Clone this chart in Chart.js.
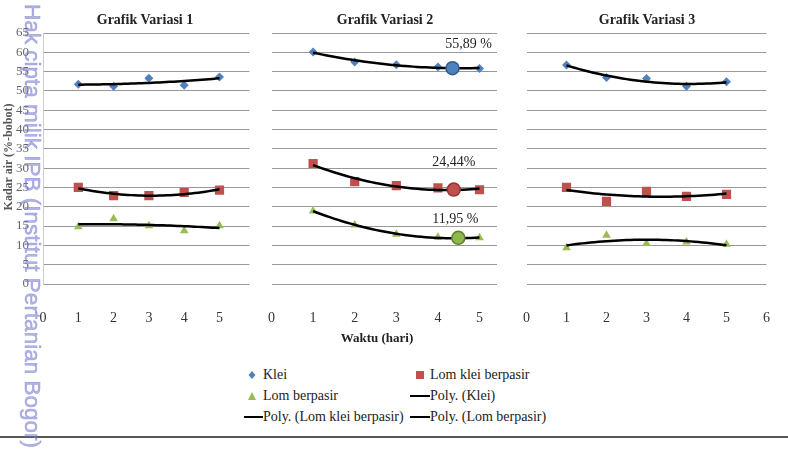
<!DOCTYPE html>
<html><head><meta charset="utf-8">
<script src="https://cdn.jsdelivr.net/npm/chart.js@4.4.1/dist/chart.umd.min.js"></script>
<style>
body{margin:0;width:788px;height:452px;background:#fff;position:relative;overflow:hidden;font-family:"Liberation Serif",serif;color:#222;}
canvas{position:absolute;}
.t{position:absolute;white-space:nowrap;}
.title{font-weight:bold;font-size:14px;transform:translate(-50%,-50%);}
.leg{font-size:14px;transform:translateY(-50%);font-family:"Liberation Serif",serif;}
.mk{position:absolute;transform:translate(-50%,-50%);}
</style></head><body>
<canvas id="c1" style="left:0;top:0" width="256" height="330"></canvas>
<canvas id="c2" style="left:250px;top:0" width="255" height="330"></canvas>
<canvas id="c3" style="left:505px;top:0" width="283" height="330"></canvas>

<div class="t title" style="left:145px;top:20px">Grafik Variasi 1</div>
<div class="t title" style="left:385px;top:20px">Grafik Variasi 2</div>
<div class="t title" style="left:647px;top:20px">Grafik Variasi 3</div>
<div class="t title" style="left:377px;top:338px;font-size:13px">Waktu (hari)</div>
<div class="t" style="left:8px;top:157px;font-weight:bold;font-size:12px;color:#555;transform:translate(-50%,-50%) rotate(-90deg)">Kadar air (%-bobot)</div>

<svg class="mk" style="left:252px;top:375px" width="10" height="10"><polygon points="5,1 8.5,5 5,9 1.5,5" fill="#4F81BD"/></svg>
<div class="t leg" style="left:263px;top:375px">Klei</div>
<svg class="mk" style="left:420px;top:375px" width="10" height="10"><rect x="1" y="1" width="8" height="8" fill="#C0504D"/></svg>
<div class="t leg" style="left:430px;top:375px">Lom klei berpasir</div>
<svg class="mk" style="left:252px;top:396px" width="10" height="10"><polygon points="5,1 9,9 1,9" fill="#9BBB59"/></svg>
<div class="t leg" style="left:263px;top:396px">Lom berpasir</div>
<div style="position:absolute;left:410px;top:395px;width:20px;height:2px;background:#000"></div>
<div class="t leg" style="left:430px;top:396px">Poly. (Klei)</div>
<div style="position:absolute;left:244px;top:416px;width:19px;height:2px;background:#000"></div>
<div class="t leg" style="left:263px;top:417px">Poly. (Lom klei berpasir)</div>
<div style="position:absolute;left:410px;top:416px;width:20px;height:2px;background:#000"></div>
<div class="t leg" style="left:430px;top:417px">Poly. (Lom berpasir)</div>

<div style="position:absolute;left:0;top:436px;width:788px;height:2px;background:#555"></div>
<div class="t" style="left:32px;top:226px;font-family:'Liberation Sans',sans-serif;font-size:22.5px;-webkit-text-stroke:0.6px rgba(115,120,205,0.55);color:rgba(115,120,205,0.55);transform:translate(-50%,-50%) rotate(90deg)">Hak cipta milik IPB (Institut Pertanian Bogor)</div>

<script>
// ---- data ----
const days = [1, 2, 3, 4, 5];
const xTicks = [0, 1, 2, 3, 4, 5];
const xTicks3 = [0, 1, 2, 3, 4, 5, 6];
const yTicks = [0,5,10,15,20,25,30,35,40,45,50,55,60,65];
// Grafik Variasi 1
const v1Klei = [51.7, 51.2, 53.3, 51.5, 53.6];
const v1LomKlei = [25.0, 22.9, 22.9, 23.7, 24.3];
const v1LomPasir = [14.8, 16.9, 15.1, 13.8, 15.1];
// Grafik Variasi 2
const v2Klei = [60.1, 57.5, 56.8, 56.2, 55.8];
const v2LomKlei = [31.2, 26.5, 25.5, 24.9, 24.4];
const v2LomPasir = [18.9, 15.3, 12.9, 12.1, 12.0];
// highlighted points in Variasi 2
const v2MarkX = [4.35, 4.38, 4.49];
const v2MarkY = [55.89, 24.44, 11.95];
const v2MarkLabels = ['55,89 %', '24,44%', '11,95 %'];
// Grafik Variasi 3
const v3Klei = [56.7, 53.5, 53.2, 51.2, 52.4];
const v3LomKlei = [25.0, 21.4, 24.0, 22.7, 23.2];
const v3LomPasir = [9.4, 12.6, 10.5, 10.9, 10.3];

const BLUE = '#4F81BD', RED = '#C0504D', GREEN = '#9BBB59';
const FONT = "'Liberation Serif', serif";

// quadratic least squares (Excel "Poly." order 2 trendline)
function polyfit2(xs, ys) {
  let n = xs.length, s1=0,s2=0,s3=0,s4=0,t0=0,t1=0,t2=0;
  for (let i=0;i<n;i++){const x=xs[i],y=ys[i];s1+=x;s2+=x*x;s3+=x*x*x;s4+=x*x*x*x;t0+=y;t1+=x*y;t2+=x*x*y;}
  const M=[[n,s1,s2],[s1,s2,s3],[s2,s3,s4]], b=[t0,t1,t2];
  const det=m=>m[0][0]*(m[1][1]*m[2][2]-m[1][2]*m[2][1])-m[0][1]*(m[1][0]*m[2][2]-m[1][2]*m[2][0])+m[0][2]*(m[1][0]*m[2][1]-m[1][1]*m[2][0]);
  const D=det(M), r=[];
  for(let k=0;k<3;k++){const Mk=M.map((row,i)=>row.map((v,j)=>j===k?b[i]:v));r.push(det(Mk)/D);}
  return r;
}
function trend(ys){
  const c = polyfit2(days, ys), pts=[];
  for (let i=0;i<=40;i++){const x=1+i*0.1;pts.push({x, y:c[0]+c[1]*x+c[2]*x*x});}
  return pts;
}
const pts = ys => days.map((d,i)=>({x:d,y:ys[i]}));

function datasets(k, lk, lp) {
  return [
    {data: trend(k), showLine:true, borderColor:'#000', borderWidth:2.5, pointRadius:0, tension:0},
    {data: trend(lk), showLine:true, borderColor:'#000', borderWidth:2.5, pointRadius:0, tension:0},
    {data: trend(lp), showLine:true, borderColor:'#000', borderWidth:2.5, pointRadius:0, tension:0},
    {data: pts(k), pointStyle:'rectRot', pointRadius:4.5, backgroundColor:BLUE, borderColor:BLUE, borderWidth:0},
    {data: pts(lk), pointStyle:'rect', pointRadius:6.5, backgroundColor:RED, borderColor:RED, borderWidth:0},
    {data: pts(lp), pointStyle:'triangle', pointRadius:5, backgroundColor:GREEN, borderColor:GREEN, borderWidth:0}
  ];
}

const labelPlugin = {
  id:'marklabels',
  afterDatasetsDraw(chart, args, opts){
    if(!opts.labels) return;
    const {ctx, scales:{x,y}} = chart;
    ctx.save(); ctx.font = "14px " + FONT; ctx.fillStyle='#222'; ctx.textAlign='center'; ctx.textBaseline='middle';
    opts.labels.forEach((t,i)=>{
      ctx.fillText(t, x.getPixelForValue(opts.xs[i]) + opts.dx[i], y.getPixelForValue(opts.ys[i]) + opts.dy[i]);
    });
    ctx.restore();
  }
};

function makeChart(id, ds, xmax, xt, yWidth, padRight, showY, extra) {
  return new Chart(document.getElementById(id), {
    type:'scatter',
    data:{datasets: ds},
    plugins:[labelPlugin],
    options:{
      responsive:false, animation:false,
      layout:{padding:{top:33, right:padRight, left:0, bottom:0}},
      plugins:{legend:{display:false}, tooltip:{enabled:false}, marklabels: extra || {}},
      scales:{
        x:{type:'linear', min:0, max:xmax,
           afterFit(s){s.height=46;},
           afterBuildTicks(s){s.ticks = xt.map(v=>({value:v}));},
           grid:{display:false}, border:{display:false},
           ticks:{padding:18, color:'#333', font:{family:FONT, size:14}, autoSkip:false,
                  callback:v=>String(v)}},
        y:{type:'linear', min:0, max:65,
           afterFit(s){s.width=yWidth;},
           afterBuildTicks(s){s.ticks = yTicks.map(v=>({value:v}));},
           grid:{color:'#999', lineWidth:1, drawTicks:false},
           border:{display:showY, color:'#ccc'},
           ticks:{display:showY, padding:14, color:'#666', font:{family:FONT, size:13}}}
      }
    }
  });
}

makeChart('c1', datasets(v1Klei, v1LomKlei, v1LomPasir), 5.85, xTicks, 43, 6, true);

const ds2 = datasets(v2Klei, v2LomKlei, v2LomPasir);
const circleColors = [[BLUE,'#2f5a8f'],[RED,'#8e3431'],['#8DB84B','#5f7f2f']];
ds2.unshift(...v2MarkX.map((x,i)=>({data:[{x, y:v2MarkY[i]}], pointStyle:'circle', pointRadius:6.5,
  backgroundColor:circleColors[i][0], borderColor:circleColors[i][1], borderWidth:1.5})));
makeChart('c2', ds2, 5.42, xTicks, 15, 8, false,
  {labels:v2MarkLabels, xs:v2MarkX, ys:v2MarkY, dx:[16,0,-3], dy:[-24,-27,-19]});

makeChart('c3', datasets(v3Klei, v3LomKlei, v3LomPasir), 6, xTicks3, 10, 15, false);
</script>
</body></html>
